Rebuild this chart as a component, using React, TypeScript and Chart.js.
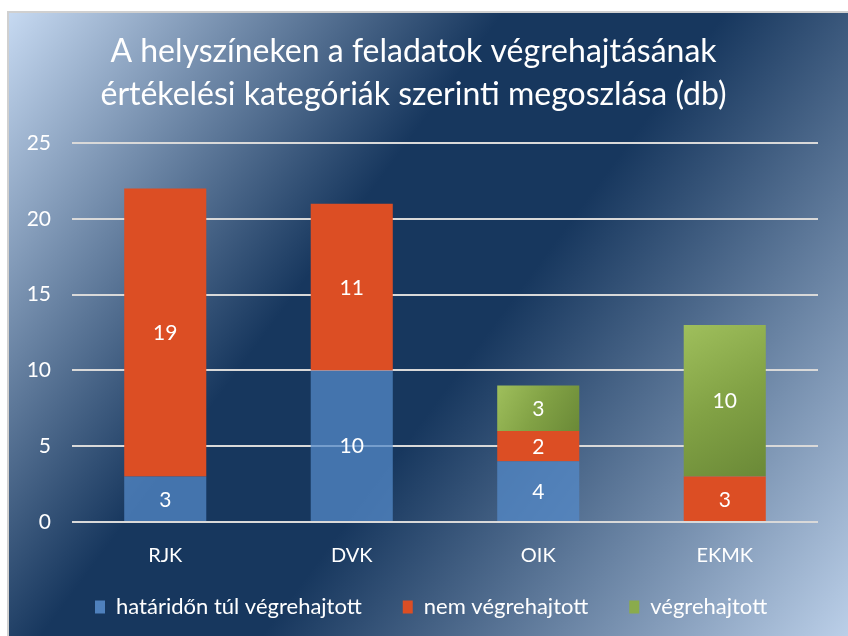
import React, { useEffect, useRef } from "react";
import { Chart, registerables } from "chart.js";

Chart.register(...registerables);

const categories = ["RJK", "DVK", "OIK", "EKMK"];
const seriesNames = ["határidőn túl végrehajtott", "nem végrehajtott", "végrehajtott"];
const lateValues: (number | null)[] = [3, 10, 4, null];
const notDoneValues: (number | null)[] = [19, 11, 2, 3];
const doneValues: (number | null)[] = [null, null, 3, 10];
const yMin = 0;
const yMax = 25;
const yStep = 5;
const titleLines = [
  "A helyszíneken a feladatok végrehajtásának",
  "értékelési kategóriák szerinti megoszlása (db)",
];

const FONT = "Lato, 'Open Sans', sans-serif";
const BAR_FRACTION = 0.44;
const BLUE = "rgba(84,138,200,0.75)";
const BLUE_LEGEND = "#4f81bd";
const ORANGE = "#dc4e24";
const GREEN = "#8aab4c";

const greenFill = (c: any) => {
  const chart = c.chart;
  const xs = chart.scales?.x;
  const ys = chart.scales?.y;
  if (c.type !== "data" || !xs || !ys || c.raw == null) return GREEN;
  const i = c.dataIndex;
  const below = (lateValues[i] ?? 0) + (notDoneValues[i] ?? 0);
  const cx = xs.getPixelForValue(i);
  const half = ((xs.getPixelForValue(1) - xs.getPixelForValue(0)) * BAR_FRACTION) / 2;
  const top = ys.getPixelForValue(below + c.raw);
  const bottom = ys.getPixelForValue(below);
  if (!isFinite(cx) || !isFinite(top) || !isFinite(bottom)) return GREEN;
  const g = chart.ctx.createLinearGradient(cx - half, top, cx + half, bottom);
  g.addColorStop(0, "#9fbf5c");
  g.addColorStop(0.5, "#82a245");
  g.addColorStop(1, "#6a8937");
  return g;
};

const backgroundPlugin = {
  id: "bgGradient",
  beforeDraw(chart: any) {
    const { ctx, width, height } = chart;
    const g = ctx.createLinearGradient(0, 0, width, height);
    g.addColorStop(0, "#c6d9f1");
    g.addColorStop(0.38, "#17375e");
    g.addColorStop(0.55, "#17375e");
    g.addColorStop(1, "#bbcfe8");
    ctx.save();
    ctx.fillStyle = g;
    ctx.fillRect(0, 0, width, height);
    ctx.restore();
  },
};

const valueLabelPlugin = {
  id: "valueLabels",
  afterDatasetsDraw(chart: any) {
    const ctx = chart.ctx;
    ctx.save();
    ctx.fillStyle = "#ffffff";
    ctx.font = `21px ${FONT}`;
    ctx.textAlign = "center";
    ctx.textBaseline = "middle";
    chart.data.datasets.forEach((ds: any, di: number) => {
      const meta = chart.getDatasetMeta(di);
      meta.data.forEach((el: any, i: number) => {
        const v = ds.data[i];
        if (v == null) return;
        ctx.fillText(String(v), el.x, (el.y + el.base) / 2 + 1);
      });
    });
    ctx.restore();
  },
};

const legendPlacePlugin = {
  id: "legendPlace",
  beforeInit(chart: any) {
    if (!chart.legend) return;
    const orig = chart.legend.fit;
    chart.legend.fit = function () {
      orig.call(this);
      this.height = 61;
    };
  },
  afterLayout(chart: any) {
    const lg = chart.legend;
    if (lg) {
      lg.left += 45;
      lg.right += 45;
      lg.top -= 20;
      lg.height += 20;
    }
  },
};

export default function App() {
  const ref = useRef<HTMLCanvasElement | null>(null);

  useEffect(() => {
    if (!ref.current) return;
    const legendColors = [BLUE_LEGEND, ORANGE, GREEN];
    const chart = new Chart(ref.current, {
      type: "bar",
      data: {
        labels: categories,
        datasets: [
          { label: seriesNames[0], data: lateValues, backgroundColor: BLUE, borderWidth: 0 },
          { label: seriesNames[1], data: notDoneValues, backgroundColor: ORANGE, borderWidth: 0 },
          { label: seriesNames[2], data: doneValues, backgroundColor: greenFill as any, borderWidth: 0 },
        ],
      },
      options: {
        animation: false,
        responsive: true,
        maintainAspectRatio: false,
        layout: { padding: { left: 0, right: 30, top: 0, bottom: 0 } },
        datasets: { bar: { categoryPercentage: 1, barPercentage: BAR_FRACTION } },
        scales: {
          x: {
            stacked: true,
            grid: { display: false, drawTicks: false },
            border: { display: false },
            ticks: { color: "#ffffff", font: { family: FONT, size: 20 }, padding: 22 },
            afterFit: (s: any) => {
              s.height = 53;
            },
          },
          y: {
            stacked: true,
            min: yMin,
            max: yMax,
            grid: { color: "#d9d9d9", lineWidth: 2, drawTicks: false },
            border: { display: false },
            ticks: { stepSize: yStep, color: "#ffffff", font: { family: FONT, size: 21 }, padding: 21 },
            afterFit: (s: any) => {
              s.width = 63;
            },
          },
        },
        plugins: {
          title: {
            display: true,
            text: titleLines,
            color: "#ffffff",
            font: { family: FONT, size: 32, weight: "normal", lineHeight: "43px" } as any,
            padding: { top: 17.5, bottom: 26.5 },
          },
          legend: {
            display: true,
            position: "bottom",
            align: "start",
            fullSize: true,
            labels: {
              color: "#ffffff",
              font: { family: FONT, size: 22 },
              boxWidth: 10,
              boxHeight: 13,
              padding: 41,
              generateLabels: (ch: any) =>
                ch.data.datasets.map((ds: any, i: number) => ({
                  text: ds.label,
                  fillStyle: legendColors[i],
                  strokeStyle: legendColors[i],
                  lineWidth: 0,
                  fontColor: "#ffffff",
                  hidden: !ch.isDatasetVisible(i),
                  datasetIndex: i,
                })),
            },
          },
          tooltip: { enabled: false },
        },
      },
      plugins: [backgroundPlugin, valueLabelPlugin, legendPlacePlugin],
    });
    return () => chart.destroy();
  }, []);

  return (
    <div
      style={{
        position: "absolute",
        left: 7,
        top: 11,
        width: 839,
        height: 623,
        borderLeft: "2px solid #d0d0d0",
        borderTop: "2px solid #d0d0d0",
      }}
    >
      <canvas ref={ref} />
    </div>
  );
}
